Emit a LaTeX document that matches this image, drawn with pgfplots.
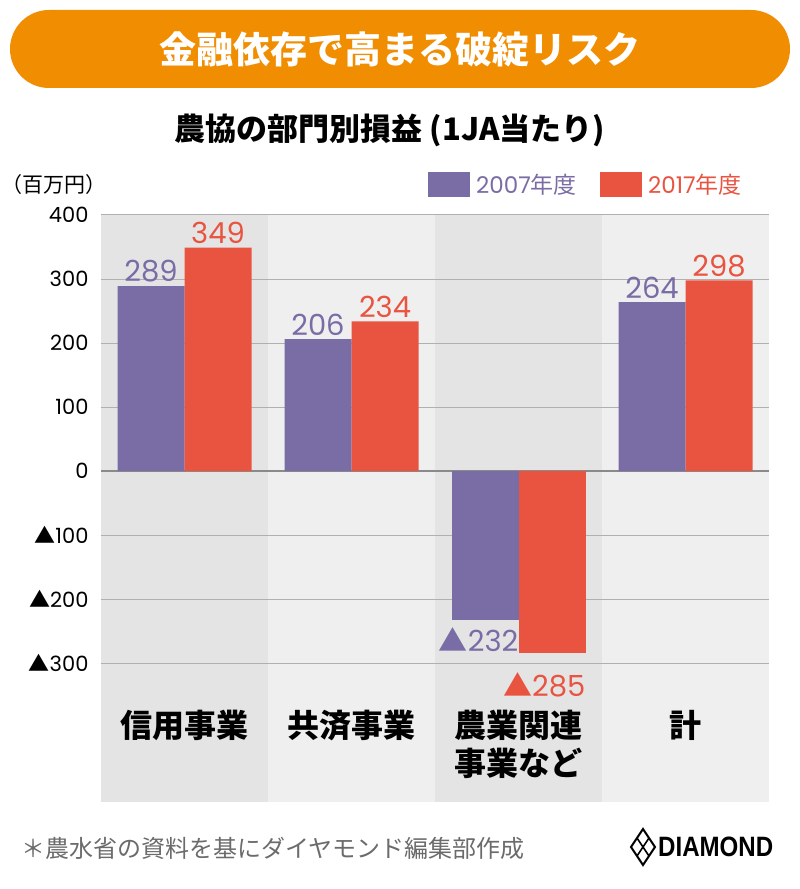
\documentclass[border=0pt]{standalone}
\usepackage{fontspec}
\usepackage{pgfplots}
\pgfplotsset{compat=1.18}
\setmainfont{Poppins}
\newfontfamily\jp{Noto Sans CJK JP}
\newfontfamily\logo{Liberation Sans}
\definecolor{purp}{HTML}{7A6CA5}
\definecolor{redd}{HTML}{E95441}
\definecolor{orng}{HTML}{F18D00}
\definecolor{bandA}{HTML}{E4E4E4}
\definecolor{bandB}{HTML}{EFEFEF}
\definecolor{gridc}{HTML}{B0B0B0}
\definecolor{zeroc}{HTML}{8A8A8A}
\definecolor{foot}{HTML}{6B6B6B}
\newcommand\fs[2]{\fontsize{#1}{#2}\selectfont}

\begin{document}
\begin{tikzpicture}[x=1pt,y=1pt]

% title banner
\fill[orng, rounded corners=39pt] (10,801) rectangle (790,879);
\node[text=white, font=\jp\bfseries\fs{37}{40}] at (400,840) {金融依存で高まる破綻リスク};
\node[font=\jp\bfseries\fs{31}{34}] at (390,759) {農協の部門別損益 (1JA当たり)};
\node[anchor=west, font=\jp\fs{21}{24}] at (-2,704) {（百万円）};

% legend
\fill[purp] (428,692) rectangle (470,717);
\node[anchor=west, text=purp, font=\fs{23}{26}, inner sep=0pt] at (476,704.5) {2007{\jp 年度}};
\fill[redd] (600,692) rectangle (642,717);
\node[anchor=west, text=redd, font=\fs{23}{26}, inner sep=0pt] at (648,704.5) {2017{\jp 年度}};

\begin{axis}[
    at={(101pt,87pt)}, anchor=south west,
    scale only axis, width=668pt, height=587pt,
    xmin=-0.5, xmax=3.5, ymin=-517, ymax=400,
    set layers, clip=false,
    /pgf/number format/assume math mode=true,
    axis line style={draw=none},
    major tick length=0pt,
    ytick={-300,-200,-100,100,200,300,400},
    yticklabels={{\jp ▲}300,{\jp ▲}200,{\jp ▲}100,100,200,300,400},
    extra y ticks={0}, extra y tick labels={0},
    extra y tick style={grid=major, major grid style={zeroc, line width=2pt}},
    ymajorgrids,
    major grid style={gridc, line width=1pt},
    yticklabel style={font=\fs{21}{24}, anchor=east, xshift=-9pt},
    xtick={0,1,2,3},
    xticklabels={信用事業, 共済事業, {農業関連\\事業など}, 計},
    xticklabel style={font=\jp\bfseries\fs{32}{38}, align=center, anchor=north, yshift=95pt},
]

% category bands
\addplot[fill=bandA, draw=none, forget plot, on layer=axis background]
  coordinates {(-0.5,-517) (0.5,-517) (0.5,400) (-0.5,400)} -- cycle;
\addplot[fill=bandB, draw=none, forget plot, on layer=axis background]
  coordinates {(0.5,-517) (1.5,-517) (1.5,400) (0.5,400)} -- cycle;
\addplot[fill=bandA, draw=none, forget plot, on layer=axis background]
  coordinates {(1.5,-517) (2.5,-517) (2.5,400) (1.5,400)} -- cycle;
\addplot[fill=bandB, draw=none, forget plot, on layer=axis background]
  coordinates {(2.5,-517) (3.5,-517) (3.5,400) (2.5,400)} -- cycle;

% 2007
\addplot[ybar, bar width=67pt, bar shift=-33.5pt, fill=purp, draw=none,
  nodes near coords,
  every node near coord/.append style={font=\fs{29}{32}, text=purp, xshift=-33.5pt}]
  coordinates {(0,289) (1,206) (3,264)};
\addplot[ybar, bar width=67pt, bar shift=-33.5pt, fill=purp, draw=none,
  point meta=explicit symbolic, nodes near coords,
  nodes near coords align={anchor=north east},
  every node near coord/.append style={font=\fs{29}{32}, text=purp,
    inner sep=2pt, xshift=2pt, yshift=-6pt}]
  coordinates {(2,-232) [{\jp ▲}232]};

% 2017
\addplot[ybar, bar width=67pt, bar shift=33.5pt, fill=redd, draw=none,
  nodes near coords,
  every node near coord/.append style={font=\fs{29}{32}, text=redd, xshift=33.5pt}]
  coordinates {(0,349) (1,234) (3,298)};
\addplot[ybar, bar width=67pt, bar shift=33.5pt, fill=redd, draw=none,
  point meta=explicit symbolic, nodes near coords,
  nodes near coords align={anchor=north east},
  every node near coord/.append style={font=\fs{29}{32}, text=redd,
    inner sep=2pt, xshift=69pt, yshift=-17pt}]
  coordinates {(2,-285) [{\jp ▲}285]};
\end{axis}

% footer
\node[anchor=west, font=\jp\fs{24}{27}, text=foot] at (18,41) {＊農水省の資料を基にダイヤモンド編集部作成};
\draw[line width=2pt, line join=miter] (631,42) -- (643,60) -- (655,42) -- (643,24) -- cycle;
\draw[line width=1.6pt] (637,51) -- (649,33) (637,33) -- (649,51);
\node[anchor=west, font=\logo\bfseries\fs{28}{30}, xscale=0.86, inner sep=0pt] at (658,42) {DIAMOND};

\pgfresetboundingbox
\useasboundingbox (0,0) rectangle (800,889);
\end{tikzpicture}
\end{document}
